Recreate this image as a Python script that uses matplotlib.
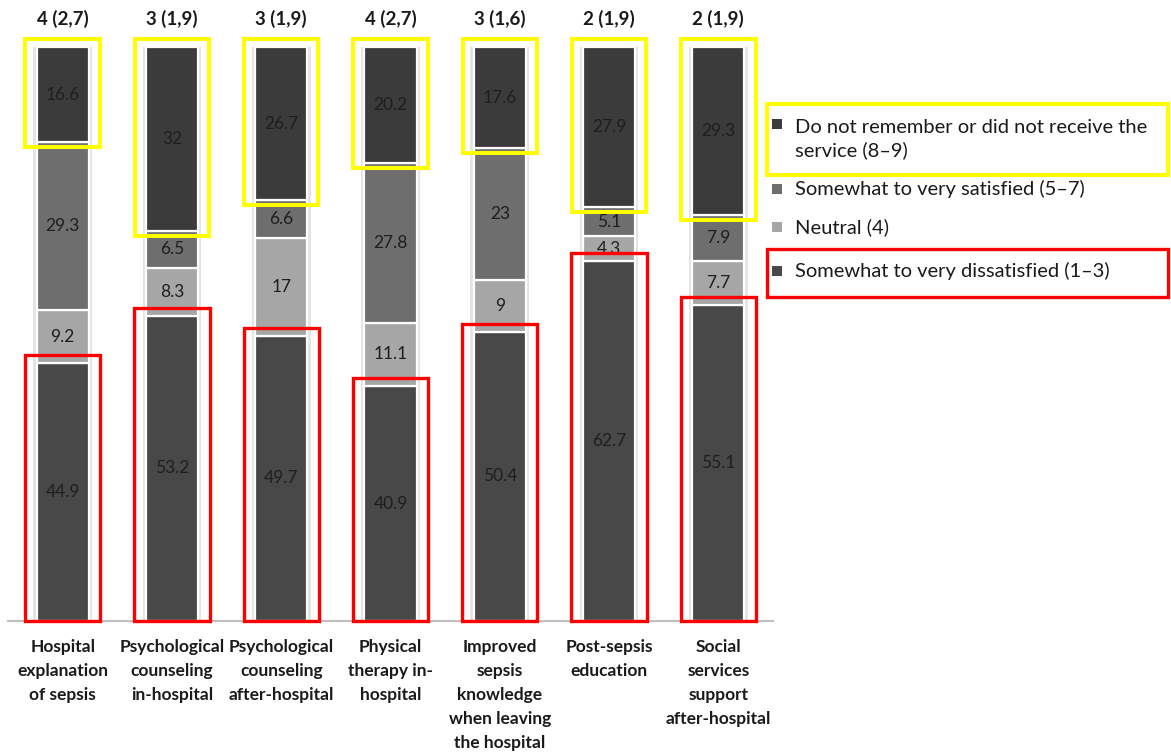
import matplotlib
matplotlib.use("Agg")
import matplotlib.pyplot as plt
from matplotlib.patches import Rectangle
import numpy as np

plt.rcParams['font.family'] = ['Lato', 'DejaVu Sans']

categories = ["Hospital\nexplanation\nof sepsis",
              "Psychological\ncounseling\nin-hospital",
              "Psychological\ncounseling\nafter-hospital",
              "Physical\ntherapy in-\nhospital",
              "Improved\nsepsis\nknowledge\nwhen leaving\nthe hospital",
              "Post-sepsis\neducation",
              "Social\nservices\nsupport\nafter-hospital"]
dissatisfied = [44.9, 53.2, 49.7, 40.9, 50.4, 62.7, 55.1]
neutral = [9.2, 8.3, 17, 11.1, 9, 4.3, 7.7]
satisfied = [29.3, 6.5, 6.6, 27.8, 23, 5.1, 7.9]
no_remember = [16.6, 32, 26.7, 20.2, 17.6, 27.9, 29.3]
top_labels = ["4 (2,7)", "3 (1,9)", "3 (1,9)", "4 (2,7)", "3 (1,6)", "2 (1,9)", "2 (1,9)"]

legend_labels = ["Do not remember or did not receive the\nservice (8\u20139)",
                 "Somewhat to very satisfied (5\u20137)",
                 "Neutral (4)",
                 "Somewhat to very dissatisfied (1\u20133)"]

c_dis = '#484848'
c_neu = '#a6a6a6'
c_sat = '#6e6e6e'
c_nor = '#3b3b3b'

W, H = 1171, 755
fig = plt.figure(figsize=(W/100, H/100), dpi=100)
ax = fig.add_axes([8/W, (H-621)/H, 765/W, (621-47)/H])
ax.set_xlim(-0.5, 6.5)
ax.set_ylim(0, 100)

x = np.arange(len(categories))
bw = 0.476

# light halo behind each bar
ax.bar(x, 100, width=bw + 0.06, bottom=0, color='#e4e4e4', edgecolor='none', zorder=1)

series = [(dissatisfied, c_dis), (neutral, c_neu), (satisfied, c_sat), (no_remember, c_nor)]
bottom = np.zeros(len(x))
for vals, col in series:
    vals = np.array(vals, dtype=float)
    ax.bar(x, vals, width=bw, bottom=bottom, color=col, edgecolor='white',
           linewidth=1.6, zorder=2)
    for xi, b, v in zip(x, bottom, vals):
        txt = f"{v:g}"
        ax.text(xi, b + v/2, txt, ha='center', va='center', fontsize=12.5,
                color='#1e1e1e', zorder=3)
    bottom += vals

# annotation boxes
for xi, d, nr in zip(x, dissatisfied, no_remember):
    ax.add_patch(Rectangle((xi - 0.345, 0), 0.69, d + 1.4, fill=False,
                           edgecolor='#ff0000', linewidth=2.4, clip_on=False, zorder=4))
    ax.add_patch(Rectangle((xi - 0.34, 100 - nr - 0.9), 0.68, nr + 0.9 + 1.4, fill=False,
                           edgecolor='#ffff00', linewidth=2.9, clip_on=False, zorder=4))

for xi, lab in zip(x, top_labels):
    ax.annotate(lab, (xi, 100), xytext=(0, 20), textcoords='offset points',
                ha='center', va='center', fontsize=13.5, fontweight='bold', color='#1a1a1a')

ax.set_xticks(x)
ax.set_xticklabels(categories, fontsize=12.5, fontweight='bold', color='#1a1a1a',
                   linespacing=1.62)
ax.tick_params(axis='x', length=0, pad=13)
ax.set_yticks([])
for s in ['top', 'left', 'right']:
    ax.spines[s].set_visible(False)
ax.spines['bottom'].set_color('#bfbfbf')
ax.spines['bottom'].set_linewidth(1.5)

# legend (manual)
def fx(px):
    return px / W

def fy(py):
    return 1 - py / H

legend_colors = [c_nor, c_sat, c_neu, c_dis]
marker_y = [124, 189, 227, 271]
text_y = [139, 189, 227, 271]
for lab, col, my, ty in zip(legend_labels, legend_colors, marker_y, text_y):
    fig.patches.append(Rectangle((fx(772), fy(my + 5)), 10/W, 10/H, transform=fig.transFigure,
                                 facecolor=col, edgecolor='none', figure=fig))
    fig.text(fx(795), fy(ty), lab, ha='left', va='center', fontsize=14.5,
             color='#1a1a1a', linespacing=1.4)

fig.patches.append(Rectangle((fx(767), fy(175)), (1168-767)/W, (175-104)/H,
                             transform=fig.transFigure, fill=False, edgecolor='#ffff00',
                             linewidth=2.9, figure=fig))
fig.patches.append(Rectangle((fx(767), fy(297)), (1168-767)/W, (297-249)/H,
                             transform=fig.transFigure, fill=False, edgecolor='#ff0000',
                             linewidth=2.4, figure=fig))

fig.savefig("out.png", dpi=100, facecolor='white')
